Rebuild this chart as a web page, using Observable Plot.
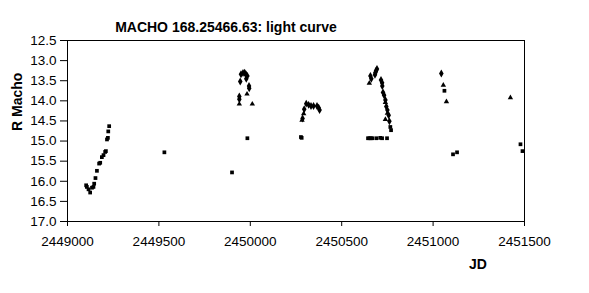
<!DOCTYPE html>
<html><head><meta charset="utf-8">
<script src="https://cdn.jsdelivr.net/npm/d3@7"></script>
<script src="https://cdn.jsdelivr.net/npm/@observablehq/plot@0.6"></script>
<style>body{margin:0;background:#fff;}</style>
</head><body><div id="chart"></div>
<script>
const title = "MACHO 168.25466.63: light curve";
const xLabel = "JD";
const yLabel = "R Macho";
const xTicks = [2449000, 2449500, 2450000, 2450500, 2451000, 2451500];
const yTicks = [12.5, 13.0, 13.5, 14.0, 14.5, 15.0, 15.5, 16.0, 16.5, 17.0];

// series drawn with square markers
const squareJD = [2449102,2449106,2449115,2449124,2449134,2449142,2449146,2449153,2449161,2449173,2449179,2449188,2449197,2449206,2449210,2449216,2449221,2449223,2449228,
  2449530,2449900,2449984,2450277,2450281,
  2450644,2450652,2450660,2450668,2450690,2450711,2450721,2450748,2450766,2450770,
  2451062,2451109,2451131,2451478,2451489];
const squareMag = [16.10,16.14,16.20,16.28,16.16,16.14,16.06,15.92,15.74,15.56,15.54,15.40,15.35,15.27,15.25,14.96,14.92,14.76,14.63,
  15.28,15.78,14.93,14.90,14.92,
  14.93,14.93,14.93,14.93,14.93,14.92,14.93,14.93,14.65,14.73,
  13.75,15.33,15.28,15.08,15.25];

// series drawn with diamond markers
const diamondJD = [2449945,2449949,2449960,2449969,2449976,2449978,2449984,2449993,2449994,2449940,2449940,
  2450286,2450295,2450306,2450319,2450332,2450346,2450365,2450374,2450379,
  2450693,2450688,2450684,2450682,2450657,2450662,2450715,2450721,2450722,2450726,2450732,2450739,2450744,2450750,2450757,2450761,
  2451045];
const diamondMag = [13.52,13.34,13.31,13.30,13.34,13.45,13.38,13.63,13.69,13.96,13.89,
  14.44,14.21,14.07,14.10,14.13,14.13,14.13,14.17,14.23,
  13.21,13.25,13.30,13.35,13.38,13.45,13.48,13.55,13.63,13.79,13.86,13.98,14.14,14.23,14.36,14.51,
  13.32];

// series drawn with triangle markers
const triangleJD = [2449940,2450011,2449982,2450283,2450292,2450651,2450739,2450750,2450739,2451056,2451073,2451423];
const triangleMag = [14.08,14.08,13.83,14.48,14.32,13.56,14.04,14.31,14.46,13.61,14.02,13.92];

const toRows = (xs, ys) => xs.map((x, i) => ({jd: x, mag: ys[i]}));
const squares = toRows(squareJD, squareMag);
const diamonds = toRows(diamondJD, diamondMag);
const triangles = toRows(triangleJD, triangleMag);

const font = "'Liberation Sans', Arial, sans-serif";
const chart = Plot.plot({
  width: 589, height: 293,
  marginLeft: 67, marginRight: 65, marginTop: 40, marginBottom: 72,
  style: {fontFamily: font, fontSize: "13px", background: "#fff", color: "#000", overflow: "visible"},
  x: {domain: [2449000, 2451500], label: null},
  y: {domain: [12.5, 17], reverse: true, label: null},
  marks: [
    Plot.frame({stroke: "#000", strokeWidth: 1}),
    Plot.axisX({ticks: xTicks, tickFormat: d3.format("d"), tickSize: 5, tickPadding: 10, label: null, fontSize: 13.5}),
    Plot.axisY({ticks: yTicks, tickFormat: d3.format(".1f"), tickSize: 7, tickPadding: 4, label: null, fontSize: 13.5}),
    Plot.dot(squares, {x: "jd", y: "mag", symbol: "square", r: 2.1, fill: "#000", stroke: "none"}),
    Plot.dot(diamonds, {x: "jd", y: "mag", symbol: "diamond", r: 2.4, fill: "#000", stroke: "none"}),
    Plot.dot(triangles, {x: "jd", y: "mag", symbol: "triangle", r: 2.0, fill: "#000", stroke: "none"}),
    Plot.text([title], {frameAnchor: "top", dx: -70, dy: -9, lineAnchor: "bottom", fontSize: 14, fontWeight: "bold", fill: "#000"}),
    Plot.text([yLabel], {frameAnchor: "left", dx: -50, rotate: -90, fontSize: 14, fontWeight: "bold", fill: "#000"}),
    Plot.text([xLabel], {frameAnchor: "bottom", dx: 182, dy: 47, fontSize: 14, fontWeight: "bold", fill: "#000"})
  ]
});
document.getElementById("chart").appendChild(chart);
</script>
</body></html>
